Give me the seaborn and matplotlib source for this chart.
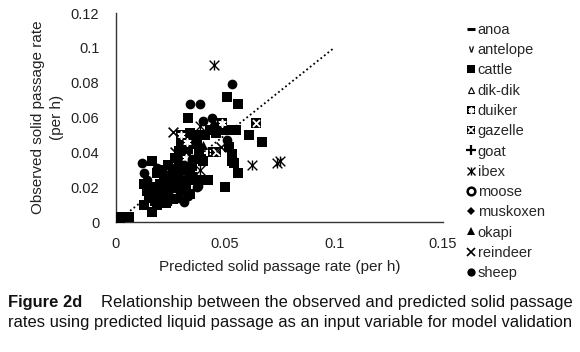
import matplotlib
matplotlib.use("Agg")
import matplotlib.pyplot as plt
import seaborn as sns
import pandas as pd
from matplotlib.lines import Line2D

# observed vs predicted solid passage rate (per h)
anoa_x = [0.028, 0.035]
anoa_y = [0.030, 0.028]
antelope_x = [0.033, 0.030]
antelope_y = [0.040, 0.025]
cattle_x = [0.000, 0.002, 0.004, 0.006, 0.001, 0.0165, 0.0165, 0.013, 0.014, 0.015,
            0.013, 0.018, 0.020, 0.022, 0.024, 0.025, 0.027, 0.028, 0.030, 0.022,
            0.020, 0.026, 0.029, 0.031, 0.033, 0.024, 0.027, 0.029, 0.030, 0.032,
            0.034, 0.033, 0.036, 0.037, 0.035, 0.038, 0.040, 0.041, 0.042, 0.050,
            0.056, 0.041, 0.043, 0.046, 0.050, 0.052, 0.054, 0.055, 0.056, 0.051,
            0.061, 0.067, 0.052, 0.053, 0.053, 0.054, 0.030, 0.026, 0.034, 0.036,
            0.019, 0.021, 0.017, 0.039, 0.032, 0.034, 0.028, 0.023, 0.019]
cattle_y = [0.001, 0.002, 0.003, 0.003, 0.003, 0.035, 0.006, 0.022, 0.018, 0.014,
            0.010, 0.012, 0.016, 0.014, 0.019, 0.022, 0.025, 0.028, 0.030, 0.026,
            0.022, 0.030, 0.035, 0.038, 0.042, 0.033, 0.037, 0.041, 0.044, 0.048,
            0.051, 0.060, 0.050, 0.045, 0.032, 0.040, 0.035, 0.024, 0.024, 0.020,
            0.028, 0.050, 0.053, 0.051, 0.053, 0.053, 0.053, 0.053, 0.068, 0.072,
            0.050, 0.046, 0.043, 0.039, 0.035, 0.034, 0.018, 0.013, 0.016, 0.024,
            0.028, 0.030, 0.020, 0.036, 0.022, 0.027, 0.020, 0.011, 0.010]
dikdik_x = [0.017, 0.024]
dikdik_y = [0.018, 0.028]
duiker_x = [0.0485, 0.0445, 0.0325, 0.032, 0.030]
duiker_y = [0.057, 0.040, 0.046, 0.037, 0.050]
gazelle_x = [0.064, 0.046]
gazelle_y = [0.057, 0.040]
goat_x = [0.025, 0.032, 0.028]
goat_y = [0.0125, 0.013, 0.017]
ibex_x = [0.045, 0.0385, 0.0625, 0.074, 0.075, 0.0385]
ibex_y = [0.090, 0.055, 0.033, 0.034, 0.035, 0.030]
moose_x = [0.022]
moose_y = [0.018]
muskoxen_x = [0.029, 0.026]
muskoxen_y = [0.020, 0.024]
okapi_x = [0.040, 0.038]
okapi_y = [0.044, 0.042]
reindeer_x = [0.026, 0.048, 0.027]
reindeer_y = [0.052, 0.043, 0.040]
sheep_x = [0.012, 0.013, 0.034, 0.0385, 0.053, 0.044, 0.037, 0.031, 0.0375, 0.014,
           0.018, 0.021, 0.024, 0.027, 0.029, 0.033, 0.025, 0.030, 0.033, 0.040,
           0.045, 0.051, 0.053, 0.031, 0.019, 0.023, 0.035, 0.028]
sheep_y = [0.034, 0.028, 0.068, 0.068, 0.079, 0.060, 0.020, 0.0115, 0.021, 0.024,
           0.016, 0.020, 0.017, 0.021, 0.014, 0.015, 0.027, 0.025, 0.028, 0.058,
           0.055, 0.047, 0.037, 0.033, 0.031, 0.023, 0.036, 0.032]

species = ["anoa", "antelope", "cattle", "dik-dik", "duiker", "gazelle", "goat",
           "ibex", "moose", "muskoxen", "okapi", "reindeer", "sheep"]
xs = [anoa_x, antelope_x, cattle_x, dikdik_x, duiker_x, gazelle_x, goat_x,
      ibex_x, moose_x, muskoxen_x, okapi_x, reindeer_x, sheep_x]
ys = [anoa_y, antelope_y, cattle_y, dikdik_y, duiker_y, gazelle_y, goat_y,
      ibex_y, moose_y, muskoxen_y, okapi_y, reindeer_y, sheep_y]

rows = []
for name, xv, yv in zip(species, xs, ys):
    for a, b in zip(xv, yv):
        rows.append({"species": name, "pred": a, "obs": b})
df = pd.DataFrame(rows)

# marker looks: list of layers (marker, size, face, edge, linewidth)
looks = {
    "anoa": [("_", 7, "k", "k", 2.2)],
    "antelope": [(r"$\vee$", 5, "k", "k", 0.2)],
    "cattle": [("s", 7, "k", "k", 0)],
    "dik-dik": [("^", 5, "none", "k", 0.8)],
    "duiker": [("s", 7, "k", "k", 0), ((6, 2, 0), 5, "w", "w", 1.2)],
    "gazelle": [("s", 7, "k", "k", 0), ("x", 5, "w", "w", 1.3)],
    "goat": [("+", 8, "k", "k", 1.6)],
    "ibex": [("x", 7, "k", "k", 1.0), ("|", 7, "k", "k", 1.0)],
    "moose": [("o", 6.5, "none", "k", 1.8)],
    "muskoxen": [("D", 4.5, "k", "k", 0)],
    "okapi": [("^", 6.5, "k", "k", 0)],
    "reindeer": [("x", 7, "k", "k", 1.2)],
    "sheep": [("o", 7, "k", "k", 0)],
}

sns.set_style("white")
plt.rcParams["font.family"] = ["Liberation Sans", "DejaVu Sans"]

fig = plt.figure(figsize=(5.8, 3.52), dpi=100)
ax = fig.add_axes([0.2, 0.369, 0.564, 0.594])

ax.plot([0, 0.1], [0, 0.1], color="k", linestyle=(0, (1, 1.5)), linewidth=1.3, zorder=1)

for name in species:
    sub = df[df["species"] == name]
    for m, ms, fc, ec, lw in looks[name]:
        sns.scatterplot(data=sub, x="pred", y="obs", marker=m, s=ms ** 2,
                        facecolor=fc, edgecolor=ec, linewidth=lw,
                        color=fc if fc != "none" else ec,
                        ax=ax, zorder=3, legend=False)

ax.set_xlim(0, 0.15)
ax.set_ylim(0, 0.12)
ax.set_xticks([0, 0.05, 0.1, 0.15])
ax.set_yticks([0, 0.02, 0.04, 0.06, 0.08, 0.1, 0.12])
ax.set_xticklabels(["0", "0.05", "0.1", "0.15"])
ax.set_yticklabels(["0", "0.02", "0.04", "0.06", "0.08", "0.1", "0.12"])
ax.tick_params(axis="both", length=0, labelsize=10.5, colors="#222222")
ax.tick_params(axis="x", pad=11)
ax.tick_params(axis="y", pad=12)
for side in ["top", "right"]:
    ax.spines[side].set_visible(False)
for side in ["left", "bottom"]:
    ax.spines[side].set_color("#333333")
    ax.spines[side].set_linewidth(1.0)

ax.set_xlabel("Predicted solid passage rate (per h)", fontsize=11, color="#222222", labelpad=6)
ax.set_ylabel("Observed solid passage rate\n(per h)", fontsize=11, color="#222222",
              labelpad=5, linespacing=1.4)

# legend with composite markers
handles = []
for name in species:
    parts = []
    for m, ms, fc, ec, lw in looks[name]:
        parts.append(Line2D([], [], linestyle="none", marker=m, markersize=ms * 0.85,
                            markerfacecolor=fc, markeredgecolor=ec, markeredgewidth=lw))
    handles.append(tuple(parts) if len(parts) > 1 else parts[0])
fig.legend(handles, species, loc="upper left", bbox_to_anchor=(0.805, 0.935),
           frameon=False, fontsize=10.5, handlelength=0.55, handletextpad=0.2,
           labelspacing=0.43, borderaxespad=0, borderpad=0)

# caption: second line at natural width, first line bold label + rest right-aligned
renderer = fig.canvas.get_renderer()
W = fig.get_figwidth() * fig.dpi
x_left, x_right = 8 / 580, 573 / 580

line2_str = "rates using predicted liquid passage as an input variable for model validation"
line2 = fig.text(x_left, 1 - 322 / 352, line2_str, fontsize=10.5, va="center", color="#111111")
cap_size = 10.5 * (x_right - x_left) * W / line2.get_window_extent(renderer).width
line2.set_fontsize(cap_size)

fig.text(x_left, 1 - 303 / 352, "Figure 2d", fontsize=cap_size, fontweight="bold",
         va="center", color="#111111")
fig.text(x_right, 1 - 303 / 352,
         "Relationship between the observed and predicted solid passage",
         fontsize=cap_size, ha="right", va="center", color="#111111")

fig.savefig("out.png", dpi=100)
